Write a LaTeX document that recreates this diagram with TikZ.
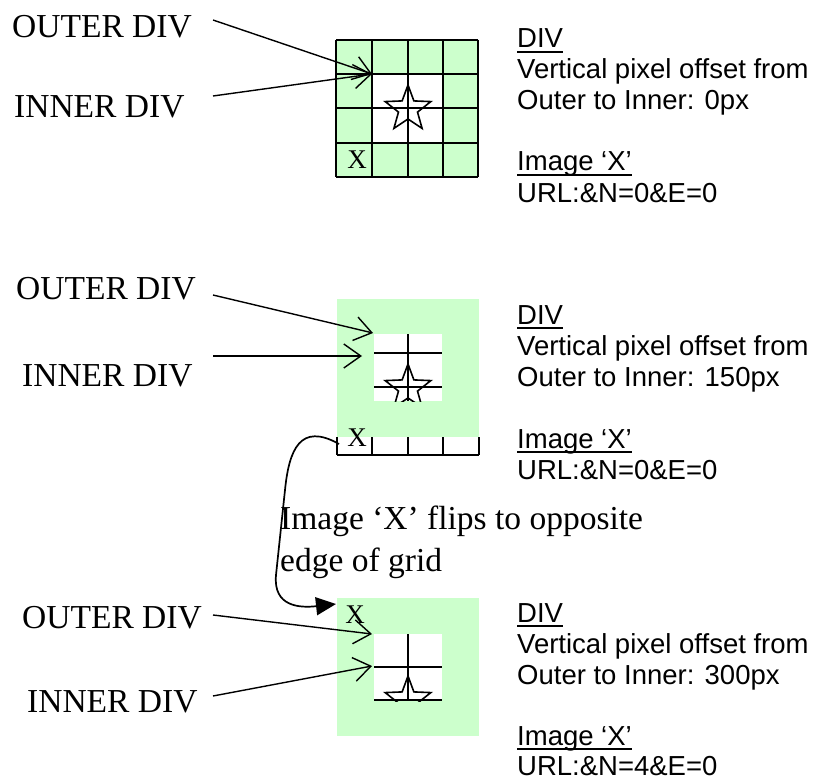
\documentclass[tikz,border=0pt]{standalone}
\usepackage{fontspec}
\setmainfont{Liberation Serif}
\newfontfamily\arialf{Liberation Sans}
\usetikzlibrary{shapes.geometric,arrows.meta}
\definecolor{divgreen}{RGB}{204,255,204}
\begin{document}
\begin{tikzpicture}[x=1pt,y=-1pt,
  lbl/.style={font=\fontsize{33.5}{40}\selectfont, inner sep=0pt, anchor=base west},
  info/.style={font=\arialf\fontsize{27.5}{31}\selectfont, inner sep=0pt, anchor=base west},
  xmark/.style={font=\fontsize{27}{27}\selectfont, inner sep=0pt},
  gline/.style={line width=1.5pt},
  uline/.style={line width=1.5pt},
  ptr/.style={line width=1.4pt, -{Straight Barb[length=17pt,width=24pt,line width=1.4pt]}},
  flip/.style={line width=1.7pt, -{Triangle[length=20pt,width=18pt]}},
  starsh/.style={star, star points=5, star point ratio=2.4, minimum size=48pt, inner sep=0pt, draw, line width=1.6pt}
]
\useasboundingbox (0,0) rectangle (814,781);

% ---------- Grid 1 ----------
\fill[divgreen] (336,40) rectangle (478,177);
\fill[white] (372,74) rectangle (443,143);
\foreach \x in {336,372,408,443,478} \draw[gline] (\x,40) -- (\x,177);
\foreach \y in {40,74,108,143,177} \draw[gline] (336,\y) -- (478,\y);
\node[starsh] (star1) at (408,109) {};
\node[xmark] (x1) at (357,160) {X};

% ---------- Grid 2 ----------
\fill[divgreen] (337,299) rectangle (479,437);
\fill[white] (374,334) rectangle (442,401);
\begin{scope}
  \clip (374,334) rectangle (442,401);
  \draw[gline] (408,334) -- (408,401);
  \draw[gline] (374,353) -- (442,353);
  \draw[gline] (374,387) -- (442,387);
  \node[starsh] (star2) at (408,388) {};
\end{scope}
\foreach \x in {337,372,408,443,479} \draw[gline] (\x,437) -- (\x,455);
\draw[gline] (337,455) -- (479,455);
\node[xmark] (x2) at (357,438) {X};

% ---------- Grid 3 ----------
\fill[divgreen] (337,598) rectangle (479,736);
\fill[white] (374,634) rectangle (442,701);
\begin{scope}
  \clip (374,634) rectangle (442,701);
  \draw[gline] (408,634) -- (408,701);
  \draw[gline] (374,667) -- (442,667);
  \draw[gline] (374,700) -- (442,700);
  \node[starsh] (star3) at (408,700) {};
\end{scope}
\node[xmark] (x3) at (355,615) {X};

% ---------- Left labels ----------
\node[lbl] (o1) at (12,38) {OUTER DIV};
\node[lbl] (i1) at (14,118) {INNER DIV};
\node[lbl] (o2) at (16,299) {OUTER DIV};
\node[lbl] (i2) at (22,386) {INNER DIV};
\node[lbl] (o3) at (22,628) {OUTER DIV};
\node[lbl] (i3) at (27,712) {INNER DIV};

% ---------- Pointer arrows ----------
\coordinate (so1) at (213,20);  \coordinate (si1) at (213,96);
\coordinate (to1) at (372,74);  \coordinate (ti1) at (372,74);
\coordinate (so2) at (213,295); \coordinate (si2) at (213,356);
\coordinate (to2) at (373,333); \coordinate (ti2) at (362,356);
\coordinate (so3) at (213,615); \coordinate (si3) at (213,696);
\coordinate (to3) at (372,634); \coordinate (ti3) at (372,666);
\draw[ptr] (so1) -- (to1);
\draw[ptr] (si1) -- (ti1);
\draw[ptr] (so2) -- (to2);
\draw[ptr] (si2) -- (ti2);
\draw[ptr] (so3) -- (to3);
\draw[ptr] (si3) -- (ti3);

% ---------- Flip arrow and caption ----------
\coordinate (fs) at (339,444);
\coordinate (fe) at (336,604);
\draw[flip] (fs) .. controls (300,422) and (289,450) .. (285,490) -- (276,575) .. controls (273,607) and (300,608) .. (fe);
\node[lbl] (m1) at (280,529) {Image ‘X’ flips to opposite};
\node[lbl] (m2) at (280,571) {edge of grid};

% ---------- Right info blocks ----------
\node[info] (d1) at (517,48) {DIV};
\node[info] (v1) at (517,79) {Vertical pixel offset from};
\node[info] (n1) at (517,110) {Outer to Inner: 0px};
\node[info] (g1) at (517,171) {Image ‘X’};
\node[info] (u1) at (517,202) {URL:\&N=0\&E=0};

\node[info] (d2) at (517,324) {DIV};
\node[info] (v2) at (517,355) {Vertical pixel offset from};
\node[info] (n2) at (517,386) {Outer to Inner: 150px};
\node[info] (g2) at (517,448) {Image ‘X’};
\node[info] (u2) at (517,479) {URL:\&N=0\&E=0};

\node[info] (d3) at (517,622) {DIV};
\node[info] (v3) at (517,653) {Vertical pixel offset from};
\node[info] (n3) at (517,684) {Outer to Inner: 300px};
\node[info] (g3) at (517,745) {Image ‘X’};
\node[info] (u3) at (517,775) {URL:\&N=4\&E=0};

\foreach \n in {d1,g1,d2,g2,d3,g3}
  \draw[uline] ([yshift=-4pt]\n.base west) -- ([yshift=-4pt]\n.base east);
\end{tikzpicture}
\end{document}
